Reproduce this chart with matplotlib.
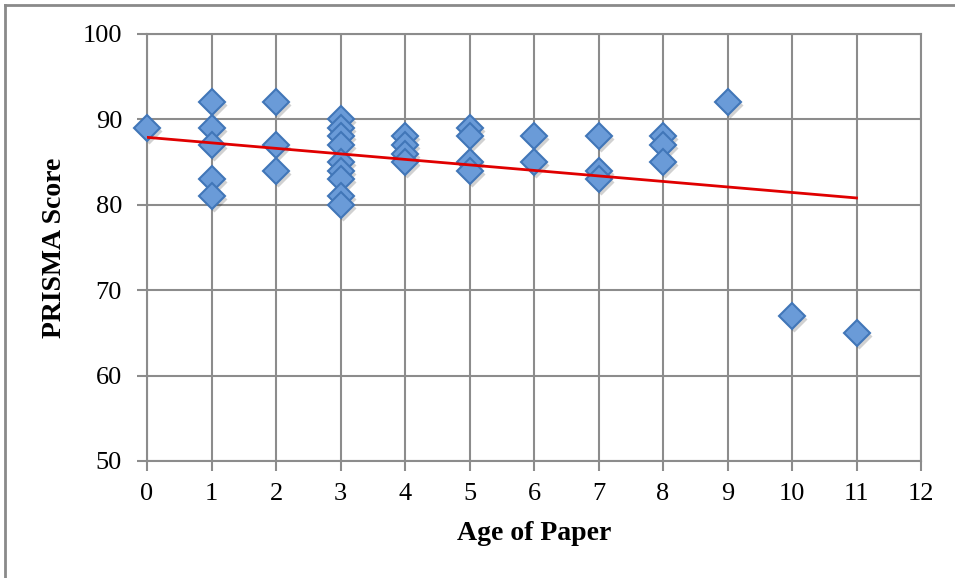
import matplotlib
matplotlib.use("Agg")
import matplotlib.pyplot as plt
from matplotlib.lines import Line2D
import matplotlib.transforms as mtransforms

# Data
age = [0,
       1, 1, 1, 1, 1,
       2, 2, 2,
       3, 3, 3, 3, 3, 3, 3, 3, 3,
       4, 4, 4, 4,
       5, 5, 5, 5,
       6, 6,
       7, 7, 7,
       8, 8, 8,
       9, 10, 11]
score = [89,
         92, 89, 87, 83, 81,
         92, 87, 84,
         90, 89, 88, 87, 85, 84, 83, 81, 80,
         88, 87, 86, 85,
         89, 88, 85, 84,
         88, 85,
         88, 84, 83,
         88, 87, 85,
         92, 67, 65]
trend_x = [0, 11]
trend_y = [87.9, 80.8]
x_ticks = list(range(0, 13))
y_ticks = [50, 60, 70, 80, 90, 100]

plt.rcParams['font.family'] = ['Liberation Serif', 'DejaVu Serif']

fig = plt.figure(figsize=(9.55, 5.78), dpi=100)
W, H = 955, 578
ax = fig.add_axes([147 / W, 1 - 461 / H, (921 - 147) / W, (461 - 34) / H])

grid_c = '#8c8c8c'
ax.set_xlim(0, 12)
ax.set_ylim(50, 100)
ax.set_xticks(x_ticks)
ax.set_yticks(y_ticks)
ax.grid(True, color=grid_c, linewidth=1.5)
ax.set_axisbelow(True)
for s in ax.spines.values():
    s.set_color(grid_c)
    s.set_linewidth(1.5)
ax.tick_params(axis='both', colors=grid_c, labelcolor='black', length=7,
               width=1.5, labelsize=19)
ax.tick_params(axis='y', pad=11)
ax.tick_params(axis='x', pad=9)

# shadow
shadow_tr = mtransforms.offset_copy(ax.transData, fig=fig, x=2, y=-3, units='dots')
ax.plot(age, score, linestyle='none', marker='D', markersize=13,
        markerfacecolor='#000000', markeredgecolor='none', alpha=0.18,
        transform=shadow_tr, zorder=2, clip_on=False)
ax.plot(age, score, linestyle='none', marker='D', markersize=13,
        markerfacecolor='#6a9bd8', markeredgecolor='#4176b8',
        markeredgewidth=1.5, zorder=3, clip_on=False)
ax.plot(trend_x, trend_y, color='#e00000', linewidth=2, zorder=4)

ax.set_xlabel('Age of Paper', fontsize=20, fontweight='bold', labelpad=11)
ax.set_ylabel('PRISMA Score', fontsize=20, fontweight='bold', labelpad=11)

# outer chart frame (left and top edges)
fig.add_artist(Line2D([5 / W, 5 / W], [0, 1 - 5 / H], transform=fig.transFigure,
                      color='#8a8a8a', linewidth=2))
fig.add_artist(Line2D([5 / W, 1], [1 - 5 / H, 1 - 5 / H], transform=fig.transFigure,
                      color='#8a8a8a', linewidth=2))

fig.savefig('out.png', dpi=100)
